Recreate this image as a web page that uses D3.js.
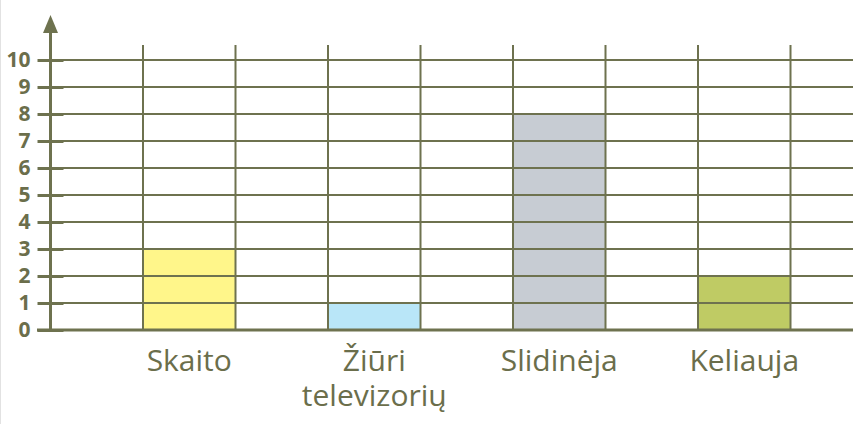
<!DOCTYPE html>
<html>
<head>
<meta charset="utf-8">
<script src="https://cdn.jsdelivr.net/npm/d3@7"></script>
<style>
  body { margin: 0; background: #fff; }
  svg { display: block; }
</style>
</head>
<body>
<svg width="856" height="424"></svg>
<script>
// data
const categories = ["Skaito", "Žiūri televizorių", "Slidinėja", "Keliauja"];
const labelLines = [["Skaito"], ["Žiūri", "televizorių"], ["Slidinėja"], ["Keliauja"]];
const values = [3, 1, 8, 2];
const barColors = ["#fff68a", "#b9e6f8", "#c7ccd3", "#bfcb64"];
const yTicks = [0, 1, 2, 3, 4, 5, 6, 7, 8, 9, 10];

const ink = "#6e724f";
const textInk = "#6b6e4b";

const svg = d3.select("svg"),
    width = +svg.attr("width"),
    height = +svg.attr("height");

const x0 = 50.5, gridRight = 853;

const x = d3.scaleBand()
    .domain(categories)
    .range([x0, x0 + 185 * 4.5])
    .paddingInner(0.5)
    .paddingOuter(0.5);

const y = d3.scaleLinear()
    .domain([0, 10])
    .range([330, 60]);

// faint page border on the left
svg.append("line")
    .attr("x1", 0.5).attr("x2", 0.5)
    .attr("y1", 0).attr("y2", height)
    .attr("stroke", "#e2e2e2");

// bars (grid is drawn over them)
svg.append("g")
    .selectAll("rect")
    .data(categories)
    .join("rect")
    .attr("x", d => x(d))
    .attr("y", (d, i) => y(values[i]))
    .attr("width", x.bandwidth())
    .attr("height", (d, i) => y(0) - y(values[i]))
    .attr("fill", (d, i) => barColors[i]);

// horizontal grid
svg.append("g")
    .attr("stroke", ink)
    .attr("stroke-width", 2)
    .selectAll("line")
    .data(yTicks.filter(d => d > 0))
    .join("line")
    .attr("x1", 63).attr("x2", gridRight)
    .attr("y1", d => y(d)).attr("y2", d => y(d));

// vertical grid at every band edge
const edges = categories.flatMap(d => [x(d), x(d) + x.bandwidth()]);
svg.append("g")
    .attr("stroke", ink)
    .attr("stroke-width", 2)
    .selectAll("line")
    .data(edges)
    .join("line")
    .attr("x1", d => d).attr("x2", d => d)
    .attr("y1", 45).attr("y2", y(0));

// baseline
svg.append("line")
    .attr("x1", 37).attr("x2", gridRight)
    .attr("y1", y(0)).attr("y2", y(0))
    .attr("stroke", ink)
    .attr("stroke-width", 3);

// y axis with ticks
const yAxis = svg.append("g")
    .attr("transform", `translate(${x0},0)`)
    .call(d3.axisLeft(y).tickValues(yTicks).tickSize(0).tickPadding(20));
yAxis.select(".domain").remove();
yAxis.selectAll(".tick text")
    .attr("fill", textInk)
    .style("font-family", "'Open Sans', 'DejaVu Sans', sans-serif")
    .style("font-size", "21px")
    .style("font-weight", "bold");
yAxis.selectAll(".tick")
    .append("line")
    .attr("x1", -13).attr("x2", 13)
    .attr("stroke", ink)
    .attr("stroke-width", 3);

// axis line with arrow
svg.append("line")
    .attr("x1", x0).attr("x2", x0)
    .attr("y1", y(0) + 1).attr("y2", 30)
    .attr("stroke", ink)
    .attr("stroke-width", 3);
svg.append("path")
    .attr("d", `M${x0},15 L${x0 + 7.5},33 L${x0 - 7.5},33 Z`)
    .attr("fill", ink);

// category labels
const labels = svg.append("g")
    .attr("fill", textInk)
    .style("font-family", "'Open Sans', 'Noto Sans', sans-serif")
    .style("font-size", "30px")
    .attr("text-anchor", "middle");
labels.selectAll("text")
    .data(categories)
    .join("text")
    .attr("x", d => x(d) + x.bandwidth() / 2)
    .attr("y", 371)
    .selectAll("tspan")
    .data((d, i) => labelLines[i])
    .join("tspan")
    .attr("x", function () { return this.parentNode.getAttribute("x"); })
    .attr("dy", (d, i) => i === 0 ? 0 : 35)
    .text(d => d);
</script>
</body>
</html>
